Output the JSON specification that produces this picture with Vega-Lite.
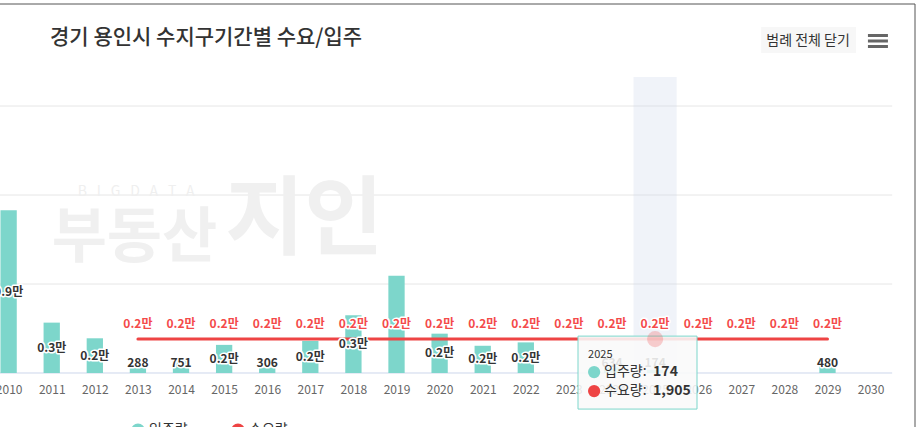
{
  "$schema": "https://vega.github.io/schema/vega-lite/v6.json",
  "width": 920,
  "height": 427,
  "autosize": {"type": "none"},
  "padding": 0,
  "config": {"view": {"stroke": null}, "font": "Noto Sans CJK KR"},
  "data": {
    "values": [
      {"year": 2010, "move_in": 9150, "demand": null},
      {"year": 2011, "move_in": 2830, "demand": null},
      {"year": 2012, "move_in": 1950, "demand": null},
      {"year": 2013, "move_in": 288, "demand": 1905},
      {"year": 2014, "move_in": 751, "demand": 1905},
      {"year": 2015, "move_in": 1580, "demand": 1905},
      {"year": 2016, "move_in": 306, "demand": 1905},
      {"year": 2017, "move_in": 1800, "demand": 1905},
      {"year": 2018, "move_in": 3250, "demand": 1905},
      {"year": 2019, "move_in": 5470, "demand": 1905},
      {"year": 2020, "move_in": 2210, "demand": 1905},
      {"year": 2021, "move_in": 1530, "demand": 1905},
      {"year": 2022, "move_in": 1720, "demand": 1905},
      {"year": 2023, "move_in": null, "demand": 1905},
      {"year": 2024, "move_in": 634, "demand": 1905},
      {"year": 2025, "move_in": 174, "demand": 1905},
      {"year": 2026, "move_in": null, "demand": 1905},
      {"year": 2027, "move_in": null, "demand": 1905},
      {"year": 2028, "move_in": null, "demand": 1905},
      {"year": 2029, "move_in": 480, "demand": 1905},
      {"year": 2030, "move_in": null, "demand": null}
    ]
  },
  "encoding": {
    "x": {
      "field": "year", "type": "quantitative", "title": null,
      "scale": {"domain": [2009.8, 2031.146], "nice": false, "zero": false, "padding": 0},
      "axis": {
        "values": [2010, 2011, 2012, 2013, 2014, 2015, 2016, 2017, 2018, 2019, 2020, 2021, 2022, 2023, 2024, 2025, 2026, 2027, 2028, 2029, 2030],
        "format": "d", "ticks": false, "grid": false, "domain": false, "offset": -54,
        "labelFontSize": 12, "labelColor": "#666666", "labelPadding": 11,
        "labelFlush": false, "labelOverlap": false
      }
    }
  },
  "layer": [
    {
      "transform": [{"filter": "datum.year == 2010"}],
      "mark": {"type": "rule", "color": "#e6e6e6", "strokeWidth": 1},
      "encoding": {
        "x": {"datum": 2009.8, "type": "quantitative"},
        "x2": {"datum": 2030.5},
        "y": {"datum": 5000, "type": "quantitative", "title": null,
          "scale": {"domain": [-3034, 20956], "nice": false, "zero": false, "padding": 0}, "axis": null}
      }
    },
    {
      "transform": [{"filter": "datum.year == 2010"}],
      "mark": {"type": "rule", "color": "#e6e6e6", "strokeWidth": 1},
      "encoding": {
        "x": {"datum": 2009.8, "type": "quantitative"},
        "x2": {"datum": 2030.5},
        "y": {"datum": 10000, "type": "quantitative"}
      }
    },
    {
      "transform": [{"filter": "datum.year == 2010"}],
      "mark": {"type": "rule", "color": "#e6e6e6", "strokeWidth": 1},
      "encoding": {
        "x": {"datum": 2009.8, "type": "quantitative"},
        "x2": {"datum": 2030.5},
        "y": {"datum": 15000, "type": "quantitative"}
      }
    },
    {
      "transform": [{"filter": "datum.year == 2010"}],
      "mark": {"type": "text", "fontSize": 14, "color": "#efefef", "align": "center", "baseline": "middle"},
      "encoding": {
        "x": {"datum": 2012.96, "type": "quantitative"},
        "y": {"datum": 10170, "type": "quantitative"},
        "text": {"value": "B\u2002\u2009I\u2002\u2009G\u2002\u2009D\u2002\u2009A\u2002\u2009T\u2002\u2009A"}
      }
    },
    {
      "transform": [{"filter": "datum.year == 2010"}],
      "mark": {"type": "text", "fontSize": 60, "fontWeight": "bold", "color": "#f0f0f0", "align": "center", "baseline": "middle"},
      "encoding": {
        "x": {"datum": 2012.92, "type": "quantitative"},
        "y": {"datum": 7528, "type": "quantitative"},
        "text": {"value": "부동산"}
      }
    },
    {
      "transform": [{"filter": "datum.year == 2010"}],
      "mark": {"type": "text", "fontSize": 86, "fontWeight": "bold", "color": "#f0f0f0", "align": "center", "baseline": "middle"},
      "encoding": {
        "x": {"datum": 2016.86, "type": "quantitative"},
        "y": {"datum": 8483, "type": "quantitative"},
        "text": {"value": "지인"}
      }
    },
    {
      "transform": [{"filter": "datum.year == 2025"}],
      "mark": {"type": "bar", "size": 43.1, "color": "#ccd6eb", "opacity": 0.3},
      "encoding": {
        "y": {"datum": 16630, "type": "quantitative"},
        "y2": {"datum": 0}
      }
    },
    {
      "transform": [{"filter": "datum.year == 2010"}],
      "mark": {"type": "rule", "color": "#ccd6eb", "strokeWidth": 1},
      "encoding": {
        "x": {"datum": 2009.8, "type": "quantitative"},
        "x2": {"datum": 2030.5},
        "y": {"datum": 0, "type": "quantitative"}
      }
    },
    {
      "transform": [{"filter": "datum.move_in > 0"}],
      "mark": {"type": "bar", "size": 16.3},
      "encoding": {
        "y": {"field": "move_in", "type": "quantitative"},
        "color": {
          "datum": "입주량",
          "scale": {"domain": ["입주량", "수요량"], "range": ["#7dd6cb", "#ee4444"]},
          "legend": {
            "title": null, "orient": "none", "direction": "horizontal",
            "legendX": 131, "legendY": 423, "symbolType": "circle", "symbolSize": 150,
            "labelFontSize": 14, "labelColor": "#333333", "columnPadding": 40
          }
        }
      }
    },
    {
      "transform": [{"filter": "isValid(datum.demand)"}],
      "mark": {"type": "line", "strokeWidth": 3, "strokeCap": "round"},
      "encoding": {
        "y": {"field": "demand", "type": "quantitative"},
        "color": {"datum": "수요량"}
      }
    },
    {
      "transform": [
        {"filter": "datum.move_in > 0 && datum.year != 2019"},
        {"calculate": "datum.move_in >= 1000 ? format(datum.move_in / 10000, '.1f') + '만' : format(datum.move_in, 'd')", "as": "label"},
        {"calculate": "max(datum.move_in / 2, 560)", "as": "label_y"}
      ],
      "layer": [
        {
          "mark": {"type": "text", "fontSize": 12, "fontWeight": "bold", "stroke": "#ffffff", "strokeWidth": 3, "strokeJoin": "round", "fill": "#ffffff", "baseline": "middle"},
          "encoding": {"y": {"field": "label_y", "type": "quantitative"}, "text": {"field": "label"}}
        },
        {
          "mark": {"type": "text", "fontSize": 12, "fontWeight": "bold", "color": "#333333", "baseline": "middle"},
          "encoding": {"y": {"field": "label_y", "type": "quantitative"}, "text": {"field": "label"}}
        }
      ]
    },
    {
      "transform": [
        {"filter": "isValid(datum.demand)"},
        {"calculate": "format(datum.demand / 10000, '.1f') + '만'", "as": "label"}
      ],
      "layer": [
        {
          "mark": {"type": "text", "fontSize": 12, "fontWeight": "bold", "stroke": "#ffffff", "strokeWidth": 3, "strokeJoin": "round", "fill": "#ffffff", "baseline": "middle", "dy": -15},
          "encoding": {"y": {"field": "demand", "type": "quantitative"}, "text": {"field": "label"}}
        },
        {
          "mark": {"type": "text", "fontSize": 12, "fontWeight": "bold", "color": "#f44a4a", "baseline": "middle", "dy": -15},
          "encoding": {"y": {"field": "demand", "type": "quantitative"}, "text": {"field": "label"}}
        }
      ]
    },
    {
      "transform": [{"filter": "datum.year == 2025"}],
      "layer": [
        {
          "mark": {"type": "point", "shape": "M-1,-0.613H1V0.613H-1Z", "size": 14161, "filled": true, "fill": "#f9f9f9", "fillOpacity": 0.88, "stroke": "#7dd6cb", "strokeWidth": 1, "strokeOpacity": 1, "xOffset": -17.6, "yOffset": 33.5},
          "encoding": {"y": {"field": "demand", "type": "quantitative"}}
        },
        {
          "mark": {"type": "point", "filled": true, "size": 260, "color": "#ee4444", "opacity": 0.25},
          "encoding": {"y": {"field": "demand", "type": "quantitative"}}
        },
        {
          "mark": {"type": "text", "fontSize": 11, "color": "#333333", "align": "left", "baseline": "middle", "dx": -67, "dy": 16},
          "encoding": {"y": {"field": "demand", "type": "quantitative"}, "text": {"field": "year", "type": "nominal"}}
        },
        {
          "mark": {"type": "point", "shape": "circle", "filled": true, "size": 150, "color": "#7dd6cb", "opacity": 1, "xOffset": -61, "yOffset": 33},
          "encoding": {"y": {"field": "demand", "type": "quantitative"}}
        },
        {
          "mark": {"type": "point", "shape": "circle", "filled": true, "size": 150, "color": "#ee4444", "opacity": 1, "xOffset": -61, "yOffset": 52},
          "encoding": {"y": {"field": "demand", "type": "quantitative"}}
        },
        {
          "mark": {"type": "text", "fontSize": 14, "color": "#333333", "align": "left", "baseline": "middle", "dx": -51, "dy": 33},
          "encoding": {"y": {"field": "demand", "type": "quantitative"}, "text": {"value": "입주량:"}}
        },
        {
          "mark": {"type": "text", "fontSize": 14, "color": "#333333", "align": "left", "baseline": "middle", "dx": -51, "dy": 52},
          "encoding": {"y": {"field": "demand", "type": "quantitative"}, "text": {"value": "수요량:"}}
        },
        {
          "mark": {"type": "text", "fontSize": 14, "fontWeight": "bold", "color": "#333333", "align": "left", "baseline": "middle", "dx": -2, "dy": 33},
          "encoding": {"y": {"field": "demand", "type": "quantitative"}, "text": {"field": "move_in", "type": "quantitative", "format": ","}}
        },
        {
          "mark": {"type": "text", "fontSize": 14, "fontWeight": "bold", "color": "#333333", "align": "left", "baseline": "middle", "dx": -2, "dy": 52},
          "encoding": {"y": {"field": "demand", "type": "quantitative"}, "text": {"field": "demand", "type": "quantitative", "format": ","}}
        }
      ]
    },
    {
      "transform": [{"filter": "datum.year == 2010"}],
      "mark": {"type": "text", "fontSize": 21, "fontWeight": 500, "color": "#333333", "align": "left", "baseline": "alphabetic"},
      "encoding": {
        "x": {"datum": 2010.9606, "type": "quantitative"},
        "y": {"datum": 18484, "type": "quantitative"},
        "text": {"value": "경기 용인시 수지구기간별 수요/입주"}
      }
    },
    {
      "transform": [{"filter": "datum.year == 2010"}],
      "mark": {"type": "rect", "color": "#f7f7f7"},
      "encoding": {
        "x": {"datum": 2027.46, "type": "quantitative"},
        "x2": {"datum": 2029.66},
        "y": {"datum": 19438, "type": "quantitative"},
        "y2": {"datum": 17978}
      }
    },
    {
      "transform": [{"filter": "datum.year == 2010"}],
      "mark": {"type": "text", "fontSize": 14, "color": "#333333", "align": "center", "baseline": "middle"},
      "encoding": {
        "x": {"datum": 2028.55, "type": "quantitative"},
        "y": {"datum": 18680, "type": "quantitative"},
        "text": {"value": "범례 전체 닫기"}
      }
    },
    {
      "transform": [{"filter": "datum.year == 2010"}],
      "mark": {"type": "point", "shape": "M-1,-0.7H1V-0.4H-1Z M-1,-0.15H1V0.15H-1Z M-1,0.4H1V0.7H-1Z", "size": 400, "filled": true, "color": "#666666", "opacity": 1},
      "encoding": {
        "x": {"datum": 2030.17, "type": "quantitative"},
        "y": {"datum": 18652, "type": "quantitative"}
      }
    },
    {
      "transform": [{"filter": "datum.year == 2010"}],
      "mark": {"type": "rule", "color": "#555555", "strokeWidth": 1},
      "encoding": {
        "x": {"datum": 2009.8, "type": "quantitative"},
        "x2": {"datum": 2031.03},
        "y": {"datum": 20731, "type": "quantitative"}
      }
    },
    {
      "transform": [{"filter": "datum.year == 2010"}],
      "mark": {"type": "rule", "color": "#555555", "strokeWidth": 1},
      "encoding": {
        "x": {"datum": 2031.03, "type": "quantitative"},
        "y": {"datum": 20731, "type": "quantitative"},
        "y2": {"datum": -3034}
      }
    }
  ]
}
